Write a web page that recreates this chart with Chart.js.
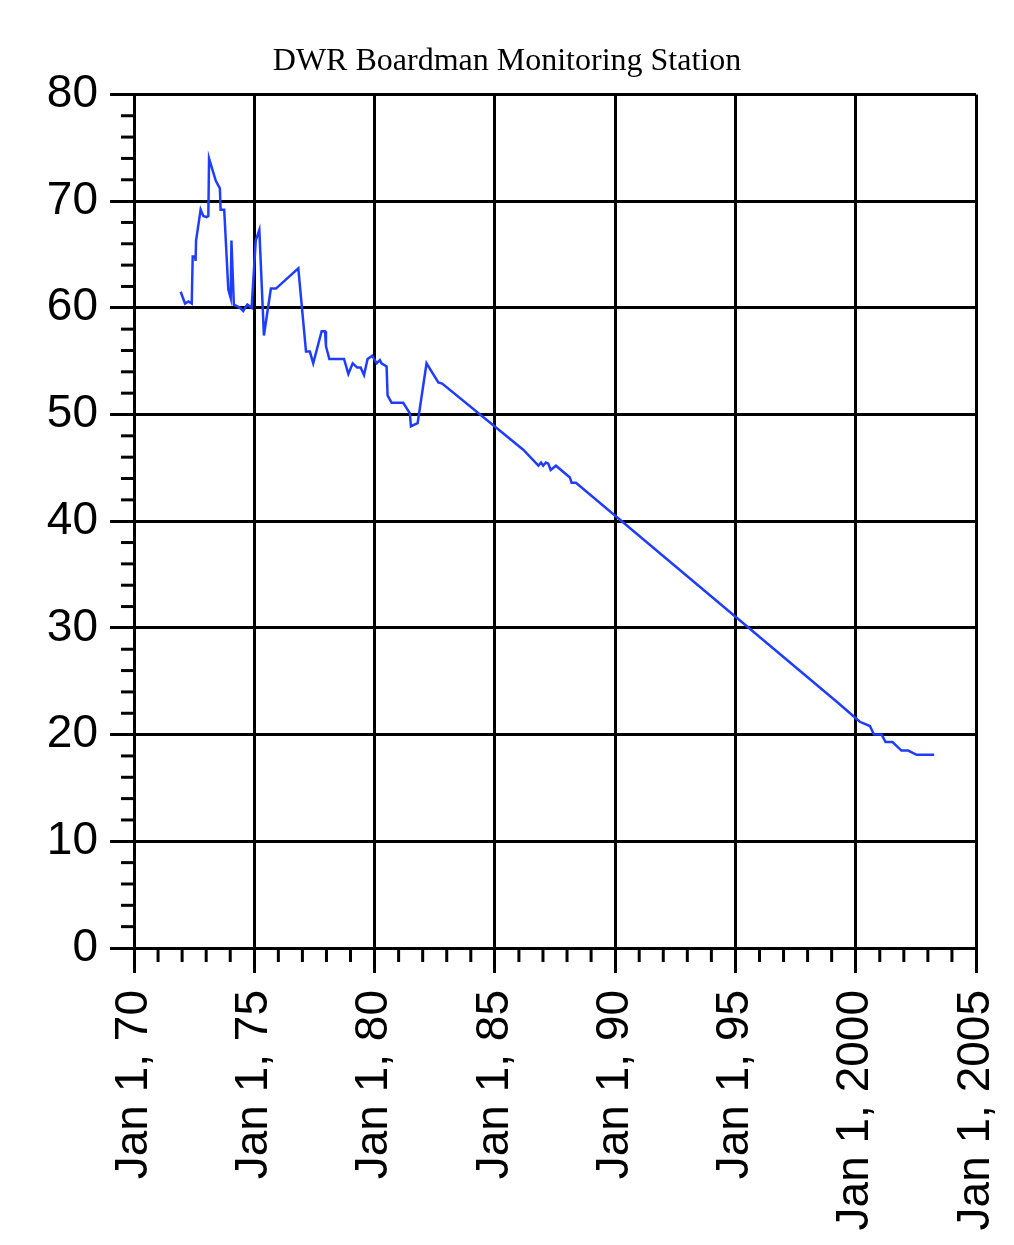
<!DOCTYPE html>
<html lang="en">
<head>
  <meta charset="UTF-8" />
  <title>DWR Boardman Monitoring Station</title>
  <script src="https://cdn.jsdelivr.net/npm/chart.js@4.4.0/dist/chart.umd.min.js"></script>
  <style>
    body { margin: 0; background: #fff; }
    canvas { display: block; }
  </style>
</head>
<body>
  <canvas id="wellChart" width="1014" height="1245"></canvas>

  <script>
    const years = [
      1971.94, 1972.12, 1972.26, 1972.40, 1972.44, 1972.54, 1972.56, 1972.58, 1972.77, 1972.88,
      1973.02, 1973.09, 1973.12, 1973.40, 1973.57, 1973.60, 1973.75, 1973.92, 1974.02, 1974.05,
      1974.15, 1974.41, 1974.54, 1974.71, 1974.89, 1975.06, 1975.21, 1975.40, 1975.69, 1975.90,
      1976.83, 1977.15, 1977.31, 1977.45, 1977.80, 1977.94, 1977.98, 1978.12, 1978.73, 1978.91,
      1979.09, 1979.28, 1979.42, 1979.56, 1979.71, 1979.90, 1980.09, 1980.22, 1980.29, 1980.50,
      1980.54, 1980.71, 1981.19, 1981.47, 1981.51, 1981.79, 1982.16, 1982.65, 1982.81, 1986.18,
      1986.81, 1986.92, 1987.01, 1987.12, 1987.22, 1987.32, 1987.54, 1988.12, 1988.19, 1988.37,
      1999.20, 1999.97, 2000.17, 2000.59, 2000.76, 2001.08, 2001.24, 2001.53, 2001.90, 2002.18,
      2002.53, 2003.26
    ];
    const levels = [
      61.5, 60.4, 60.6, 60.4, 64.8, 64.8, 64.4, 66.3, 69.2, 68.6,
      68.5, 68.6, 74.0, 71.9, 71.2, 69.2, 69.2, 61.7, 60.9, 66.3,
      60.3, 60.0, 59.7, 60.3, 60.0, 66.3, 67.3, 57.4, 61.8, 61.8,
      63.7, 55.9, 55.9, 54.8, 57.8, 57.8, 56.4, 55.2, 55.2, 53.8,
      54.8, 54.4, 54.4, 53.7, 55.2, 55.5, 54.8, 55.1, 54.8, 54.5,
      51.8, 51.1, 51.1, 50.1, 48.9, 49.2, 54.8, 53.0, 52.9, 46.7,
      45.2, 45.5, 45.2, 45.5, 45.4, 44.8, 45.2, 44.1, 43.6, 43.6,
      23.1, 21.6, 21.2, 20.8, 20.0, 20.0, 19.3, 19.3, 18.5, 18.5,
      18.1, 18.1
    ];
    const xRange = [1970, 2005];
    const yRange = [0, 80];

    // small ticks between the labelled ones (every year / every 2 units)
    const minorTicks = {
      id: 'minorTicks',
      afterDraw(chart) {
        const { ctx, chartArea, scales } = chart;
        ctx.save();
        ctx.strokeStyle = '#000';
        ctx.lineWidth = 3;
        for (let yr = xRange[0] + 1; yr < xRange[1]; yr++) {
          if (yr % 5 === 0) continue;
          const px = scales.x.getPixelForValue(yr);
          ctx.beginPath();
          ctx.moveTo(px, chartArea.bottom);
          ctx.lineTo(px, chartArea.bottom + 14);
          ctx.stroke();
        }
        for (let v = yRange[0] + 2; v < yRange[1]; v += 2) {
          if (v % 10 === 0) continue;
          const py = scales.y.getPixelForValue(v);
          ctx.beginPath();
          ctx.moveTo(chartArea.left - 13, py);
          ctx.lineTo(chartArea.left, py);
          ctx.stroke();
        }
        ctx.restore();
      }
    };

    const tickFont = { family: "'Liberation Sans', Arial, sans-serif", size: 46 };

    new Chart(document.getElementById('wellChart'), {
      type: 'line',
      data: {
        datasets: [{
          data: years.map((x, i) => ({ x: x, y: levels[i] })),
          borderColor: '#1f3dff',
          borderWidth: 2.5,
          pointRadius: 0,
          tension: 0,
          fill: false
        }]
      },
      options: {
        responsive: false,
        animation: false,
        devicePixelRatio: 1,
        layout: { padding: 0 },
        plugins: {
          legend: { display: false },
          tooltip: { enabled: false },
          title: {
            display: true,
            text: 'DWR Boardman Monitoring Station',
            color: '#000',
            font: { family: "'Liberation Serif', 'Times New Roman', serif", size: 32, weight: 'normal' },
            padding: { top: 42, bottom: 14 }
          }
        },
        scales: {
          x: {
            type: 'linear',
            min: xRange[0],
            max: xRange[1],
            afterFit(scale) {
              scale.height = 297;
              scale.paddingRight = 38;
            },
            ticks: {
              stepSize: 5,
              autoSkip: false,
              minRotation: 90,
              maxRotation: 90,
              padding: 17,
              color: '#000',
              font: tickFont,
              callback: v => 'Jan 1, ' + (v < 2000 ? String(v).slice(2) : v)
            },
            grid: { color: '#000', lineWidth: 3, tickLength: 25, tickWidth: 3, tickColor: '#000' },
            border: { color: '#000', width: 3 }
          },
          y: {
            min: yRange[0],
            max: yRange[1],
            afterFit(scale) { scale.width = 134; },
            ticks: { stepSize: 10, padding: 12, color: '#000', font: tickFont },
            grid: { color: '#000', lineWidth: 3, tickLength: 24, tickWidth: 3, tickColor: '#000' },
            border: { color: '#000', width: 3 }
          }
        }
      },
      plugins: [minorTicks]
    });
  </script>
</body>
</html>
